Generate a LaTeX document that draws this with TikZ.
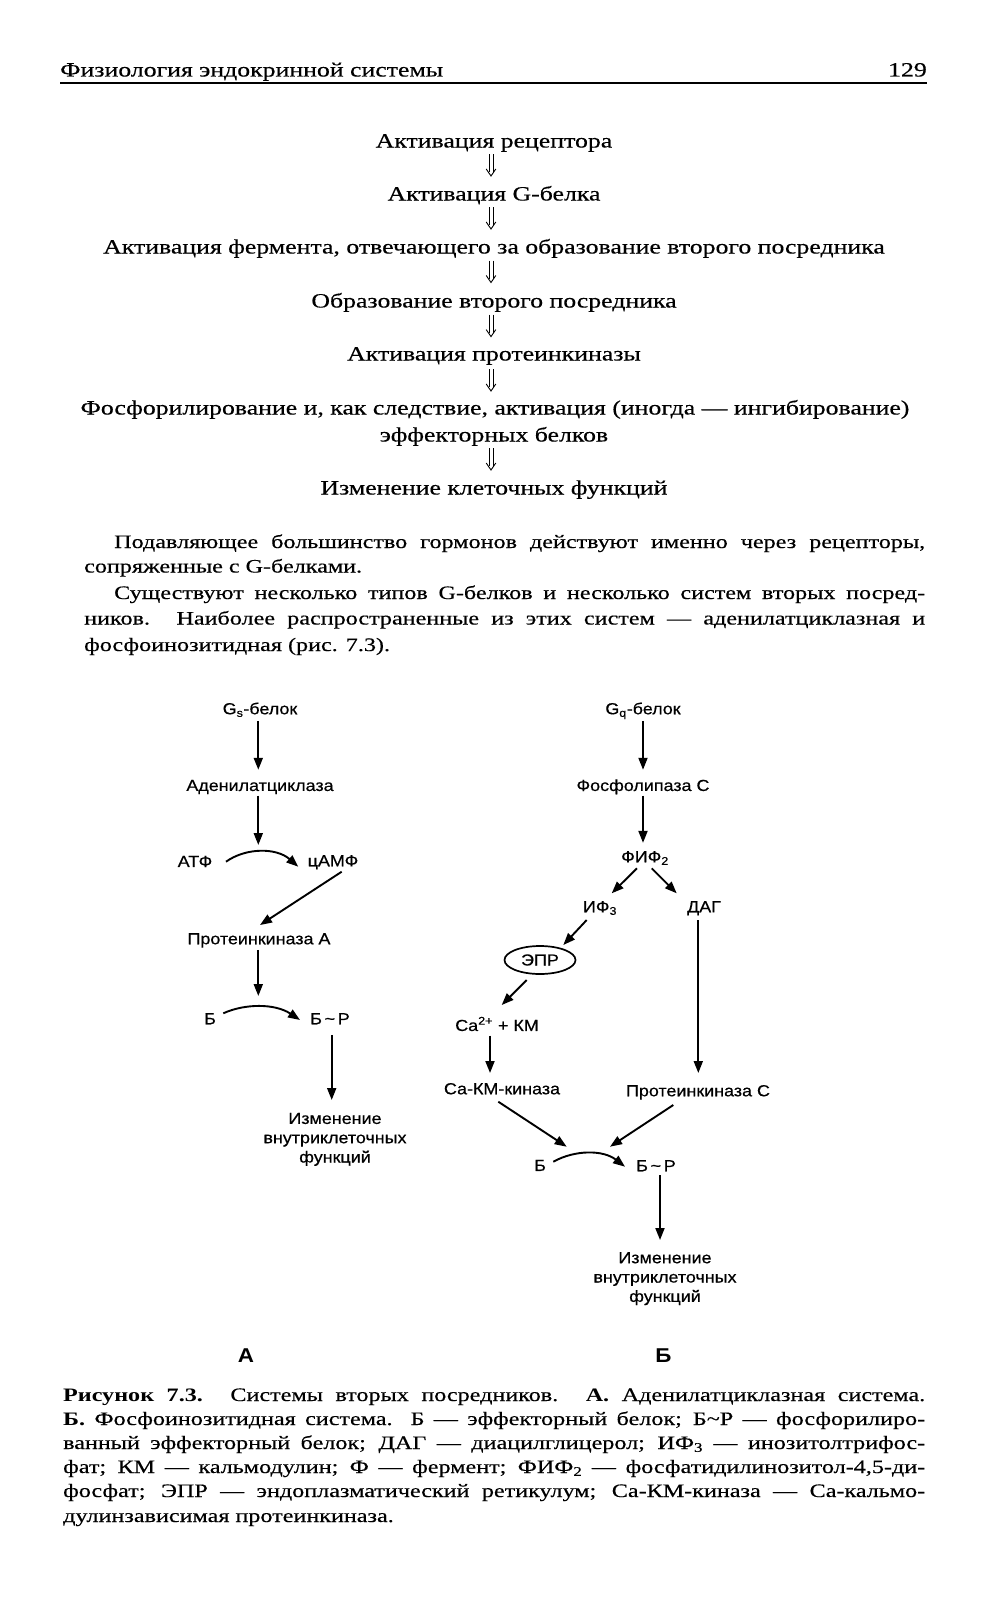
\documentclass[tikz,border=0pt]{standalone}
\usepackage{fontspec}
\setmainfont{Liberation Serif}[FakeStretch=1.27, UprightFeatures={FakeBold=0.4}]
\newfontfamily\dsans{Liberation Sans}[FakeStretch=1.12, UprightFeatures={FakeBold=0.5}]
\usetikzlibrary{arrows.meta,shapes.geometric,calc}
\tikzset{
  txt/.style={anchor=base, inner sep=0pt, font=\fontsize{20.3}{24.5}\selectfont},
  bod/.style={anchor=base west, inner sep=0pt, font=\fontsize{19}{24.5}\selectfont},
  dn/.style={font=\dsans\fontsize{16}{19.3}\selectfont, inner sep=0pt, text height=12pt, text depth=3.5pt},
  dm/.style={font=\dsans\fontsize{16}{19.3}\selectfont, inner sep=0pt, align=center},
  lbl/.style={font=\dsans\bfseries\fontsize{20}{24}\selectfont, inner sep=0pt},
  arr/.style={line width=1.9pt, -{Triangle[length=12pt,width=9pt]}},
  darr/.pic={
    \draw[line width=0.9pt] (-2,-11) -- (-2,7) (2,-11) -- (2,7);
    \draw[line width=0.9pt] (-4.8,4) -- (0,11) -- (4.8,4);
  }
}
\begin{document}
\begin{tikzpicture}[x=1pt,y=-1pt]
\useasboundingbox (0,0) rectangle (988,1600);
\fill[white] (0,0) rectangle (988,1600);

% header
\node[txt, anchor=base west] (hdr) at (60,76.5) {Физиология эндокринной системы};
\node[txt, anchor=base east] (pg) at (927,76.5) {129};
\draw[line width=1.3pt] (60,83) -- (927,83);

% flow
\node[txt] (f1) at (494,147.5) {Активация рецептора};
\node[txt] (f2) at (494,200.5) {Активация G-белка};
\node[txt] (f3) at (494,253.5) {Активация фермента, отвечающего за образование второго посредника};
\node[txt] (f4) at (494,307.5) {Образование второго посредника};
\node[txt] (f5) at (494,360.5) {Активация протеинкиназы};
\node[txt] (f6) at (495,414.5) {Фосфорилирование и, как следствие, активация (иногда — ингибирование)};
\node[txt] (f7) at (494,441.5) {эффекторных белков};
\node[txt] (f8) at (494,494.5) {Изменение клеточных функций};
\pic at (491,165) {darr};
\pic at (491,218) {darr};
\pic at (491,271.5) {darr};
\pic at (491,325.6) {darr};
\pic at (491,380) {darr};
\pic at (491,459) {darr};

% body
\node[bod] (p1) at (114,548) {\makebox[811pt][s]{Подавляющее большинство гормонов действуют именно через рецепторы,}};
\node[bod] (p2) at (84,572.5) {сопряженные с G-белками.};
\node[bod] (p3) at (114,599) {\makebox[811pt][s]{Существуют несколько типов G-белков и несколько систем вторых посред-}};
\node[bod] (p4) at (84,624.5) {\makebox[841pt][s]{ников. Наиболее распространенные из этих систем — аденилатциклазная и}};
\node[bod] (p5) at (84,651) {фосфоинозитидная (рис. 7.3).};

% diagram A
\node[dn] (gs) at (260,710) {G\textsubscript{s}-белок};
\node[dn] (ac) at (260,786.7) {Аденилатциклаза};
\node[dn] (atf) at (195,862.7) {АТФ};
\node[dn] (camf) at (333,862) {цАМФ};
\coordinate (ca1) at (258.3,845);
\node[dn] (pka) at (259,940) {Протеинкиназа А};
\node[dn] (bA) at (210,1020) {Б};
\node[dn] (bpA) at (330,1020) {Б\,\textasciitilde\,Р};
\coordinate (ca2) at (258.3,996);
\node[dm, anchor=north] (izmA) at (335,1112.7) {Изменение\\внутриклеточных\\функций};

\draw[arr, shorten <=3pt, shorten >=9pt] ([xshift=-1.7pt]gs.south) -- ([xshift=-1.7pt]gs.south |- ac.north);
\draw[arr, shorten <=1pt] ([xshift=-1.7pt]ac.south) -- (ca1);
\draw[arr] ($(atf)+(31,-1)$) .. controls ($(atf)+(51,-15.2)$) and ($(camf)+(-56.7,-14.5)$) .. ($(camf)+(-34.7,4.7)$);
\draw[arr] ($(camf)+(8.7,9.7)$) -- ($(pka)+(1,-15)$);
\draw[arr, shorten <=2pt] ([xshift=-0.7pt]pka.south) -- (ca2);
\draw[arr] ($(bA)+(13.3,-6.7)$) .. controls ($(bA)+(35,-16.6)$) and ($(bpA)+(-55,-16.6)$) .. ($(bpA)+(-30,0)$);
\draw[arr, shorten <=7pt, shorten >=12.7pt] ([xshift=1.7pt]bpA.south) -- ([xshift=1.7pt]bpA.south |- izmA.north);

% diagram B
\node[dn] (gq) at (643,710) {G\textsubscript{q}-белок};
\node[dn] (plc) at (643,786.7) {Фосфолипаза С};
\node[dn] (fif) at (645,858) {ФИФ\textsubscript{2}};
\node[dn] (if3) at (600,908) {ИФ\textsubscript{3}};
\node[dn] (dag) at (704,908) {ДАГ};
\node[ellipse, draw, line width=1.7pt, minimum width=71pt, minimum height=28pt, inner sep=0pt, font=\dsans\fontsize{16}{19.3}\selectfont] (epr) at (540,960) {ЭПР};
\node[dn] (ca) at (497,1026.7) {Ca\textsuperscript{2+} + КМ};
\node[dn] (cakm) at (502,1090) {Са-КМ-киназа};
\node[dn] (pkc) at (698,1092) {Протеинкиназа С};
\coordinate (t1) at (566.7,1146.7);
\coordinate (t2) at (610,1146.7);
\node[dn] (bB) at (540,1166.7) {Б};
\node[dn] (bpB) at (656,1167) {Б\,\textasciitilde\,Р};
\node[dm, anchor=north] (izmB) at (665,1252) {Изменение\\внутриклеточных\\функций};

\draw[arr, shorten <=3pt, shorten >=9pt] (gq.south) -- (gq.south |- plc.north);
\draw[arr, shorten <=1pt, shorten >=7.2pt] (plc.south) -- (plc.south |- fif.north);
\draw[arr] ($(fif)+(-8,10.3)$) -- ($(if3)+(11.7,-14.7)$);
\draw[arr] ($(fif)+(6.7,10.3)$) -- ($(dag)+(-27.3,-14.7)$);
\draw[arr] ($(if3)+(-13.3,12)$) -- ($(epr)+(23.3,-15)$);
\draw[arr] ($(epr)+(-13.3,20)$) -- ($(ca)+(4.7,-21.7)$);
\draw[arr] ($(ca)+(-7,9)$) -- ($(cakm)+(-12,-17)$);
\draw[arr] ($(dag)+(-5.7,12)$) -- ($(pkc)+(0.3,-19)$);
\draw[arr] ($(cakm)+(-3.7,11.7)$) -- (t1);
\draw[arr] ($(pkc)+(-24.7,13)$) -- (t2);
\draw[arr] ($(bB)+(13.3,-5)$) .. controls ($(bB)+(35,-17)$) and ($(bpB)+(-53,-17.3)$) .. ($(bpB)+(-31,-0.3)$);
\draw[arr, shorten <=0.5pt, shorten >=12pt] ([xshift=4pt]bpB.south) -- ([xshift=4pt]bpB.south |- izmB.north);

% labels
\node[lbl] (la) at (246,1355.5) {А};
\node[lbl] (lb) at (663.5,1355.5) {Б};

% caption
\node[bod] (c1) at (63,1401) {\makebox[862pt][s]{\textbf{Рисунок 7.3.} Системы вторых посредников. \textbf{А.} Аденилатциклазная система.}};
\node[bod] (c2) at (63,1425) {\makebox[862pt][s]{\textbf{Б.} Фосфоинозитидная система. Б — эффекторный белок; Б\textasciitilde Р — фосфорилиро-}};
\node[bod] (c3) at (63,1449) {\makebox[862pt][s]{ванный эффекторный белок; ДАГ — диацилглицерол; ИФ\textsubscript{3} — инозитолтрифос-}};
\node[bod] (c4) at (63,1473) {\makebox[862pt][s]{фат; КМ — кальмодулин; Ф — фермент; ФИФ\textsubscript{2} — фосфатидилинозитол-4,5-ди-}};
\node[bod] (c5) at (63,1497) {\makebox[862pt][s]{фосфат; ЭПР — эндоплазматический ретикулум; Са-КМ-киназа — Са-кальмо-}};
\node[bod] (c6) at (63,1522) {дулинзависимая протеинкиназа.};
\end{tikzpicture}
\end{document}
